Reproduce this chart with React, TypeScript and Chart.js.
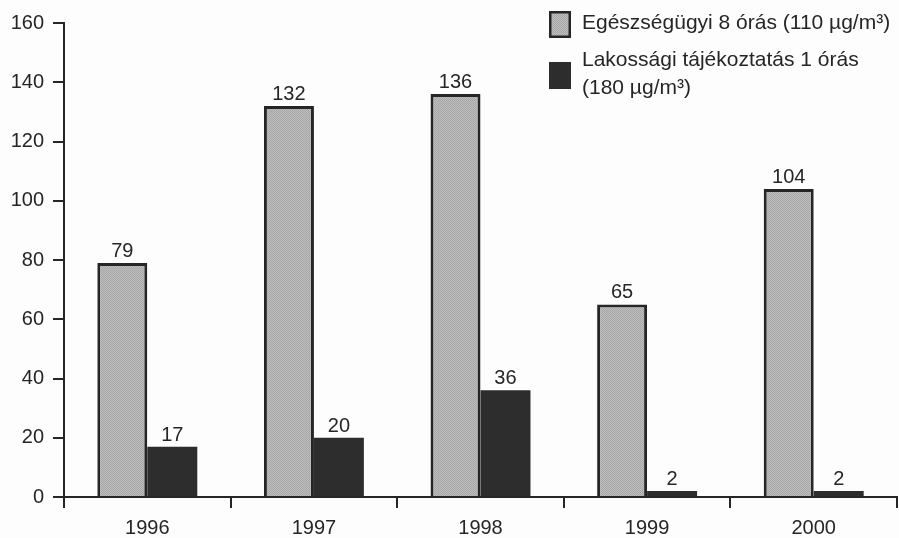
import { useEffect, useRef } from "react";
import { Chart, registerables } from "chart.js";

Chart.register(...registerables);

// Ozone threshold exceedance days per year
const years = ["1996", "1997", "1998", "1999", "2000"];
const healthLimitDays = [79, 132, 136, 65, 104];
const infoThresholdDays = [17, 20, 36, 2, 2];
const yTickValues = [0, 20, 40, 60, 80, 100, 120, 140, 160];
const healthLegend = ["Egészségügyi 8 órás (110 µg/m³)"];
const infoLegend = ["Lakossági tájékoztatás 1 órás", "(180 µg/m³)"];

const FONT = "'Liberation Sans', Arial, sans-serif";
const INK = "#262626";
const DARK = "#2d2d2d";

function makeStipple(): CanvasPattern | string {
  const c = document.createElement("canvas");
  c.width = 2;
  c.height = 2;
  const g = c.getContext("2d");
  if (!g) return "#b4b4b4";
  g.fillStyle = "#bdbdbd";
  g.fillRect(0, 0, 2, 2);
  g.fillStyle = "#a7a7a7";
  g.fillRect(0, 0, 1, 1);
  g.fillRect(1, 1, 1, 1);
  const p = g.createPattern(c, "repeat");
  return p ?? "#b4b4b4";
}

export default function App() {
  const canvasRef = useRef<HTMLCanvasElement | null>(null);

  useEffect(() => {
    document.body.style.margin = "0";
    document.body.style.background = "#ffffff";
    const canvas = canvasRef.current;
    if (!canvas) return;
    const stipple = makeStipple();

    const background = {
      id: "background",
      beforeDraw(chart: Chart) {
        const ctx = chart.ctx;
        ctx.save();
        ctx.fillStyle = "#fdfdfd";
        ctx.fillRect(0, 0, chart.width, chart.height);
        ctx.restore();
      },
    };

    const valueLabels = {
      id: "valueLabels",
      afterDatasetsDraw(chart: Chart) {
        const ctx = chart.ctx;
        ctx.save();
        ctx.font = `20px ${FONT}`;
        ctx.fillStyle = INK;
        ctx.textAlign = "center";
        ctx.textBaseline = "alphabetic";
        chart.data.datasets.forEach((ds, di) => {
          const meta = chart.getDatasetMeta(di);
          meta.data.forEach((el: any, i: number) => {
            const v = ds.data[i] as number;
            ctx.fillText(String(v), el.x, el.y - 6);
          });
        });
        ctx.restore();
      },
    };

    const boxLegend = {
      id: "boxLegend",
      afterDraw(chart: Chart) {
        const ctx = chart.ctx;
        ctx.save();
        const bx = 549;
        const bw = 22;
        const bh = 27;
        // first entry: stippled box with dark outline
        ctx.fillStyle = stipple as any;
        ctx.fillRect(bx, 11, bw, bh);
        ctx.strokeStyle = INK;
        ctx.lineWidth = 2.5;
        ctx.strokeRect(bx + 1.25, 12.25, bw - 2.5, bh - 2.5);
        // second entry: solid dark box
        ctx.fillStyle = DARK;
        ctx.fillRect(bx, 62, bw, bh);

        ctx.font = `21px ${FONT}`;
        ctx.fillStyle = INK;
        ctx.textAlign = "left";
        ctx.textBaseline = "middle";
        const tx = 582;
        healthLegend.forEach((line, i) => ctx.fillText(line, tx, 23 + i * 28));
        infoLegend.forEach((line, i) => ctx.fillText(line, tx, 60 + i * 28));
        ctx.restore();
      },
    };

    const chart = new Chart(canvas, {
      type: "bar",
      data: {
        labels: years,
        datasets: [
          {
            label: healthLegend.join(" "),
            data: healthLimitDays,
            backgroundColor: stipple as any,
            borderColor: INK,
            borderWidth: 3,
            borderSkipped: "bottom",
            categoryPercentage: 0.6,
            barPercentage: 1.0,
          },
          {
            label: infoLegend.join(" "),
            data: infoThresholdDays,
            backgroundColor: DARK,
            borderWidth: 0,
            categoryPercentage: 0.6,
            barPercentage: 1.0,
          },
        ],
      },
      options: {
        responsive: false,
        animation: false,
        devicePixelRatio: 1,
        layout: { padding: { top: 23, right: 2, left: 0, bottom: 0 } },
        plugins: {
          legend: { display: false },
          tooltip: { enabled: false },
        },
        scales: {
          x: {
            type: "category",
            grid: {
              display: true,
              offset: true,
              drawOnChartArea: false,
              drawTicks: true,
              tickLength: 11,
              color: INK,
              lineWidth: 2,
            },
            border: { display: true, color: INK, width: 2 },
            ticks: {
              color: INK,
              padding: 8,
              font: { family: FONT, size: 20 },
            },
            afterFit(scale: any) {
              scale.height = 41;
            },
          },
          y: {
            min: 0,
            max: 160,
            afterBuildTicks(scale: any) {
              scale.ticks = yTickValues.map((v) => ({ value: v }));
            },
            grid: {
              display: true,
              drawOnChartArea: false,
              drawTicks: true,
              tickLength: 11,
              color: INK,
              lineWidth: 2,
            },
            border: { display: true, color: INK, width: 2 },
            ticks: {
              color: INK,
              padding: 9,
              font: { family: FONT, size: 20 },
            },
            afterFit(scale: any) {
              scale.width = 64;
            },
          },
        },
      },
      plugins: [background, valueLabels, boxLegend],
    });

    return () => chart.destroy();
  }, []);

  return (
    <div style={{ width: 899, height: 538 }}>
      <canvas ref={canvasRef} width={899} height={538} style={{ display: "block" }} />
    </div>
  );
}
